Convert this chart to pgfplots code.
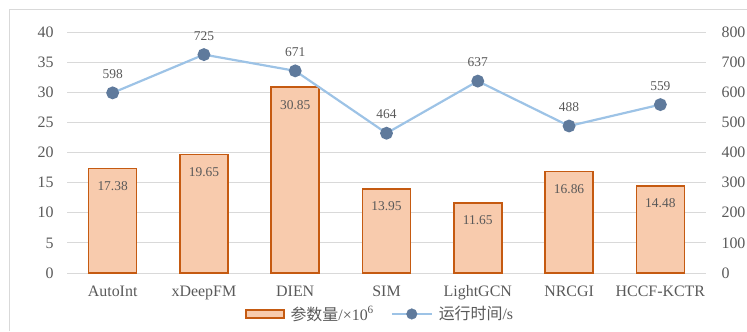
\documentclass[border=0pt]{standalone}
\usepackage{pgfplots}
\pgfplotsset{compat=1.18}
\usepackage{fontspec}
\setmainfont{Liberation Serif}
\newfontfamily\cjk{Noto Sans CJK SC}
\definecolor{txt}{HTML}{595959}
\definecolor{gridc}{HTML}{D9D9D9}
\definecolor{barfill}{HTML}{F8CBAD}
\definecolor{baredge}{HTML}{C55A11}
\definecolor{lineblue}{HTML}{9DC3E6}
\definecolor{markc}{HTML}{5F7A9C}

\pgfplotsset{
  common/.style={
    at={(67bp,58bp)}, anchor=south west,
    scale only axis, width=639bp, height=241bp,
    xmin=-0.5, xmax=6.5,
    axis line style={draw=none},
    major tick style={draw=none},
    /pgf/number format/assume math mode=true,
    tick label style={font=\fontsize{16}{19}\selectfont, text=txt},
    clip=false,
  }
}

\begin{document}
\begin{tikzpicture}[x=1bp,y=1bp]
\useasboundingbox (0,0) rectangle (747,331);
% outer frame
\draw[gridc, line width=1bp] (9.5,0) -- (9.5,321.5) -- (748,321.5);

% parameter count (bars, left axis)
\begin{axis}[common,
  ymin=0, ymax=40, ytick={0,5,...,40},
  ymajorgrids, grid style={gridc, line width=1bp},
  xtick={0,...,6},
  xticklabels={AutoInt,xDeepFM,DIEN,SIM,LightGCN,NRCGI,HCCF-KCTR},
  xticklabel style={yshift=-5bp},
  yticklabel style={xshift=-10bp},
  ybar, bar width=48bp,
  nodes near coords={\pgfmathprintnumber[fixed,fixed zerofill,precision=2]{\pgfplotspointmeta}},
  every node near coord/.append style={anchor=north, yshift=-9bp, font=\fontsize{13.5}{16}\selectfont, text=txt},
  legend style={draw=none, fill=none, at={(0.49,-0.17)}, anchor=center,
    legend columns=2, font=\fontsize{16}{19}\selectfont, text=txt,
    /tikz/every odd column/.append style={column sep=4bp},
    /tikz/every even column/.append style={column sep=15bp}},
]
\addplot[fill=barfill, draw=baredge, line width=1.5bp,
  legend image code/.code={\draw[fill=barfill, draw=baredge, line width=1.5bp] (0bp,-4bp) rectangle (38bp,4bp);}]
  coordinates {(0,17.38) (1,19.65) (2,30.85) (3,13.95) (4,11.65) (5,16.86) (6,14.48)};
\addlegendentry{{\cjk 参数量}/×10\textsuperscript{6}}
\addlegendimage{legend image code/.code={\draw[lineblue, line width=2bp] (0bp,0bp) -- (40bp,0bp); \fill[markc] (20bp,0bp) circle (5.3bp);}}
\addlegendentry{{\cjk 运行时间}/s}
\end{axis}

% running time (line, right axis)
\begin{axis}[common,
  ymin=0, ymax=800, ytick={0,100,...,800},
  axis y line*=right, hide x axis,
  yticklabel style={anchor=west, xshift=12bp},
  nodes near coords,
  every node near coord/.append style={anchor=south, yshift=10bp, font=\fontsize{13.5}{16}\selectfont, text=txt},
]
\addplot[lineblue, line width=2.2bp, mark=*, mark size=5.3bp,
  mark options={fill=markc, draw=markc}]
  coordinates {(0,598) (1,725) (2,671) (3,464) (4,637) (5,488) (6,559)};
\end{axis}
\end{tikzpicture}
\end{document}
